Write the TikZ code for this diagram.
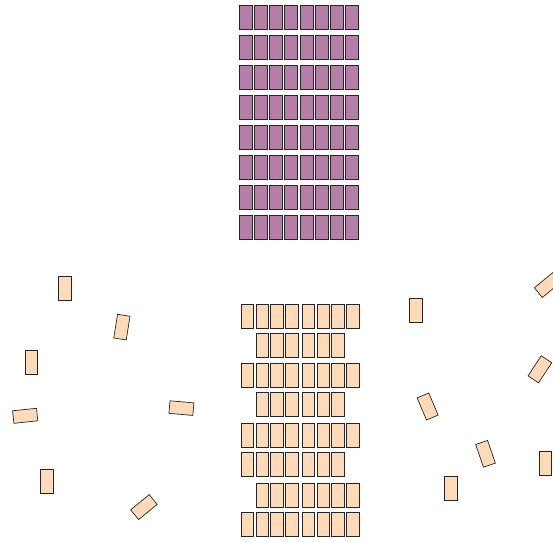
\documentclass[tikz,border=0pt]{standalone}
\definecolor{seatpurple}{RGB}{181,126,166}
\definecolor{seatpeach}{RGB}{255,218,185}
\tikzset{
  seat/.style={draw=black!85, line width=0.7pt, inner sep=0pt, minimum width=12.6pt, minimum height=24pt, anchor=center},
  purpleseat/.style={seat, fill=seatpurple},
  peachseat/.style={seat, fill=seatpeach},
}
\begin{document}
\begin{tikzpicture}[x=1pt,y=-1pt]
\useasboundingbox (0,0) rectangle (553,541);
\clip (0,0) rectangle (553,541);
% top purple block: 8 x 8
\foreach \j in {0,...,7}{
  \foreach \i/\cx in {1/245.8,2/260.8,3/275.8,4/290.8,5/306.8,6/321.8,7/336.8,8/351.8}{
    \node[purpleseat] (p-\j-\i) at (\cx,{17.2+30*\j}) {};
  }
}
% bottom peach block
\foreach \j/\cy/\first/\last in {0/316.3/1/8,1/345.2/2/7,2/375.3/1/8,3/404.3/2/7,4/435.3/1/8,5/464.7/1/7,6/495.3/2/8,7/524.3/1/8}{
  \foreach \i/\cx in {1/247.5,2/262.3,3/276.9,4/291.6,5/308.4,6/323.2,7/337.9,8/352.6}{
    \ifnum\i<\first\else\ifnum\i>\last\else
      \node[peachseat] (b-\j-\i) at (\cx,\cy) {};
    \fi\fi
  }
}
% scattered seats
\node[peachseat] (s1) at (65,288) {};
\node[peachseat, rotate=-9] (s2) at (121.9,327.1) {};
\node[peachseat] (s3) at (31.5,362.7) {};
\node[peachseat, rotate=-84] (s4) at (25.2,415.8) {};
\node[peachseat, rotate=85] (s5) at (181.4,408.1) {};
\node[peachseat] (s6) at (47,481) {};
\node[peachseat, rotate=-50.6] (s7) at (143.9,507.1) {};
\node[peachseat] (s8) at (415.7,310) {};
\node[peachseat, rotate=-50.7] (s9) at (547.6,285) {};
\node[peachseat, rotate=-33.4] (s10) at (539.9,369.3) {};
\node[peachseat, rotate=23] (s11) at (427.6,406.5) {};
\node[peachseat, rotate=19] (s12) at (485.5,453.8) {};
\node[peachseat] (s13) at (545.2,463.3) {};
\node[peachseat] (s14) at (450.8,488.8) {};
\end{tikzpicture}
\end{document}
